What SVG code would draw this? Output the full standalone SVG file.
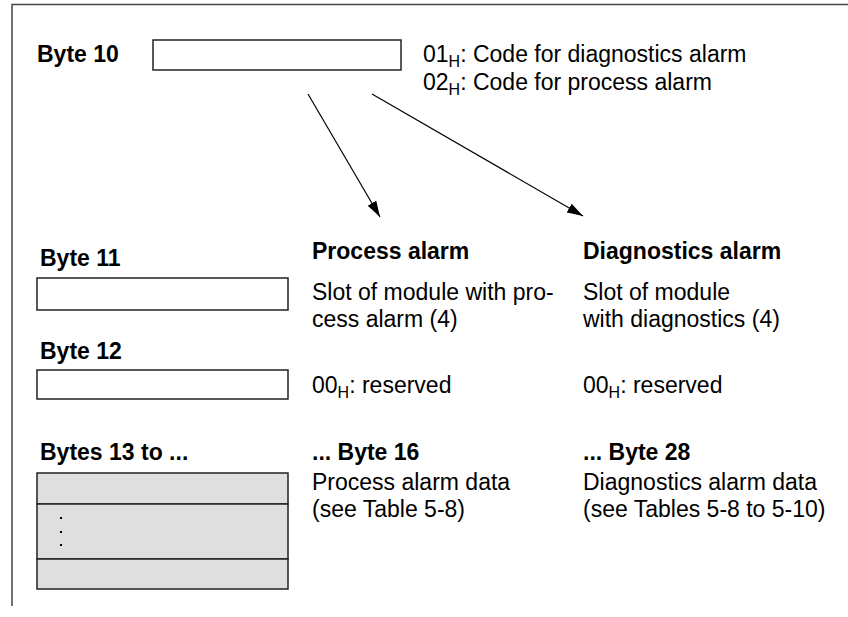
<svg xmlns="http://www.w3.org/2000/svg" width="848" height="617" viewBox="0 0 848 617">
<style>
text{font-family:"Liberation Sans",Arial,sans-serif;font-size:23px;fill:#000}
.b{font-weight:bold}
.sub{font-size:16px}
.box{fill:#fff;stroke:#222;stroke-width:1.5}
.gbox{fill:#dfdfdf;stroke:#222;stroke-width:1.5}
.frame{fill:none;stroke:#444;stroke-width:1.5}
.conn{stroke:#000;stroke-width:1.2;fill:none}
</style>
<defs>
<marker id="ah" viewBox="0 0 16 10" refX="16" refY="5" markerWidth="16" markerHeight="10" markerUnits="userSpaceOnUse" orient="auto">
<path d="M0,0 L16,5 L0,10 Z" fill="#000"/>
</marker>
</defs>
<g id="frame">
<path class="frame" d="M12,606 L12,4.5 L848,4.5"/>
</g>
<g id="byte10">
<text class="b" x="37" y="62">Byte 10</text>
<rect class="box" x="153" y="40" width="248" height="30"/>
<text x="423" y="62">01<tspan class="sub" dy="5">H</tspan><tspan dy="-5">: Code for diagnostics alarm</tspan></text>
<text x="423" y="90">02<tspan class="sub" dy="5">H</tspan><tspan dy="-5">: Code for process alarm</tspan></text>
</g>
<g id="connectors">
<line class="conn" x1="308" y1="94" x2="380" y2="217" marker-end="url(#ah)"/>
<line class="conn" x1="372" y1="94" x2="583" y2="216" marker-end="url(#ah)"/>
</g>
<g id="byte11">
<text class="b" x="40" y="266">Byte 11</text>
<rect class="box" x="37" y="278" width="251" height="32"/>
</g>
<g id="process-alarm">
<text class="b" x="312" y="259">Process alarm</text>
<text x="312" y="300">Slot of module with pro-</text>
<text x="312" y="327">cess alarm (4)</text>
<text x="312" y="393">00<tspan class="sub" dy="5">H</tspan><tspan dy="-5">: reserved</tspan></text>
<text class="b" x="312" y="460">... Byte 16</text>
<text x="312" y="490">Process alarm data</text>
<text x="312" y="517">(see Table 5-8)</text>
</g>
<g id="diagnostics-alarm">
<text class="b" x="583" y="259">Diagnostics alarm</text>
<text x="583" y="300">Slot of module</text>
<text x="583" y="327">with diagnostics (4)</text>
<text x="583" y="393">00<tspan class="sub" dy="5">H</tspan><tspan dy="-5">: reserved</tspan></text>
<text class="b" x="583" y="460">... Byte 28</text>
<text x="583" y="490">Diagnostics alarm data</text>
<text x="583" y="517">(see Tables 5-8 to 5-10)</text>
</g>
<g id="byte12">
<text class="b" x="40" y="359">Byte 12</text>
<rect class="box" x="37" y="370" width="251" height="29"/>
</g>
<g id="bytes13">
<text class="b" x="40" y="460">Bytes 13 to ...</text>
<rect class="gbox" x="37" y="473" width="251" height="31"/>
<rect class="gbox" x="37" y="504" width="251" height="55"/>
<rect class="gbox" x="37" y="559" width="251" height="30"/>
<rect x="60" y="517" width="2" height="2" fill="#000"/>
<rect x="60" y="531" width="2" height="2" fill="#000"/>
<rect x="60" y="544" width="2" height="2" fill="#000"/>
</g>
</svg>
